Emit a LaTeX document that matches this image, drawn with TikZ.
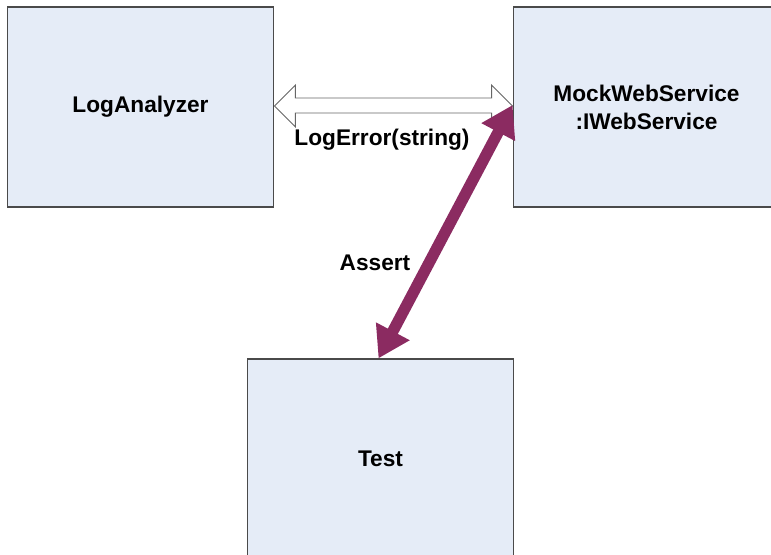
\documentclass[tikz,border=0pt]{standalone}
\usepackage{fontspec}
\setmainfont{Liberation Sans}
\usetikzlibrary{calc,arrows.meta}
\definecolor{boxfill}{HTML}{E5ECF7}
\definecolor{boxline}{HTML}{4A4A4A}
\definecolor{assertpurple}{HTML}{8B2B61}

\begin{document}
\begin{tikzpicture}[x=0.75pt,y=-0.75pt,
  classbox/.style={draw=boxline,fill=boxfill,line width=0.9pt,minimum width=200pt,minimum height=150pt,
    font=\fontsize{17}{21}\selectfont\bfseries,align=center},
  lbl/.style={font=\fontsize{17}{21}\selectfont\bfseries},
  hollow/.style={draw=black!60,fill=white,line width=0.7pt,line join=miter},
  assert/.style={draw=assertpurple,line width=8.5pt,{Triangle[length=23pt,width=27pt]}-{Triangle[length=23pt,width=27pt]}}]
  \clip (0,0) rectangle (771,555);

  % Boxes
  \node[classbox] (analyzer) at (140.5,107) {LogAnalyzer};
  \node[classbox] (mock) at (646.5,107) {MockWebService\\:IWebService};
  \node[classbox] (test) at (380.5,459) {Test};

  % LogError call (hollow double arrow)
  \draw[hollow] ($(analyzer.east)+(0,-1)$) -- ++(21,-21) -- ++(0,13) -- ($(mock.west)+(-21,-9)$) -- ++(0,-13)
    -- ($(mock.west)+(0,-1)$) -- ++(-21,21) -- ++(0,-14) -- ($(analyzer.east)+(21,6)$) -- ++(0,14) -- cycle;
  \node[lbl] (logerror) at (382,140) {LogError(string)};

  % Assert
  \draw[assert] ($(mock.west)+(0,-2)$) -- ($(test.north)+(-2,0)$);
  \node[lbl] (assertlbl) at (375,263) {Assert};
\end{tikzpicture}
\end{document}
